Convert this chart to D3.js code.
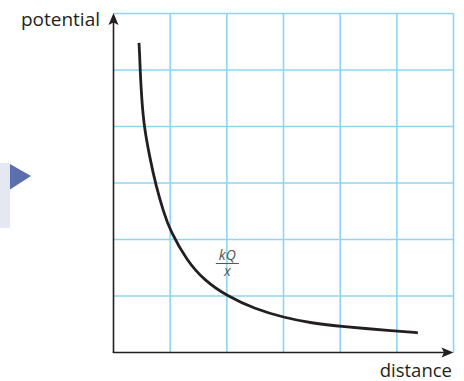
<!DOCTYPE html>
<html>
<head>
<meta charset="utf-8">
<script src="https://cdn.jsdelivr.net/npm/d3@7"></script>
<style>
html,body{margin:0;padding:0;background:#fff;}
svg{display:block;}
</style>
</head>
<body>
<svg id="chart" width="464" height="381"></svg>
<script>
// Data (grid units)
const distance = [0.45, 0.46, 0.47, 0.5, 0.54, 0.64, 0.75, 0.88, 1.0, 1.3, 1.6, 2.0, 2.5, 3.0, 3.5, 4.0, 5.0, 5.36, 5.37];
const potential = [5.48, 5.3, 5.0, 4.45, 4.0, 3.45, 2.95, 2.5, 2.15, 1.62, 1.28, 1.0, 0.77, 0.62, 0.52, 0.46, 0.38, 0.35, 0.35];
const gridTicks = [0, 1, 2, 3, 4, 5, 6];
const axisLabels = ["potential", "distance"];
const curveLabel = ["kQ", "x"];

const svg = d3.select("#chart");
const x = d3.scaleLinear().domain([0, 6]).range([113.5, 453.5]);
const y = d3.scaleLinear().domain([0, 6]).range([352.5, 13.5]);

// decorative left element
svg.append("rect").attr("x", 0).attr("y", 163).attr("width", 10).attr("height", 65).attr("fill", "#e5e7f3");
svg.append("path").attr("d", "M10,164 L31,176 L10,189.5 Z").attr("fill", "#5b6fae");

// grid
const grid = svg.append("g").attr("stroke", "#8dd6f3").attr("stroke-width", 1.6);
grid.selectAll("line.v").data(gridTicks.slice(1)).enter().append("line")
  .attr("x1", d => x(d)).attr("x2", d => x(d)).attr("y1", y(0)).attr("y2", y(6));
grid.selectAll("line.h").data(gridTicks.slice(1)).enter().append("line")
  .attr("y1", d => y(d)).attr("y2", d => y(d)).attr("x1", x(0)).attr("x2", x(6));

// axes
const axCol = "#231f20";
svg.append("line").attr("x1", x(0)).attr("x2", x(0)).attr("y1", y(0)).attr("y2", y(6) + 6)
  .attr("stroke", axCol).attr("stroke-width", 1.6);
svg.append("line").attr("x1", x(0) - 0.8).attr("x2", x(6) - 6).attr("y1", y(0)).attr("y2", y(0))
  .attr("stroke", axCol).attr("stroke-width", 1.6);
// arrowheads
svg.append("path").attr("transform", `translate(${x(0)},${y(6) - 0.5})`)
  .attr("d", "M0,0 L5,12 L0,9.5 L-5,12 Z").attr("fill", axCol);
svg.append("path").attr("transform", `translate(${x(6)},${y(0)})`)
  .attr("d", "M0,0 L-12,-5 L-9.5,0 L-12,5 Z").attr("fill", axCol);

// curve
const pts = distance.map((d, i) => [d, potential[i]]);
svg.append("path").datum(pts)
  .attr("d", d3.line().x(d => x(d[0])).y(d => y(d[1])).curve(d3.curveBasis))
  .attr("fill", "none").attr("stroke", axCol).attr("stroke-width", 2.8).attr("stroke-linecap", "butt");

// axis labels
svg.append("text").attr("x", 100).attr("y", 26).attr("text-anchor", "end")
  .attr("font-family", "Open Sans").attr("font-size", 19).attr("fill", axCol).text(axisLabels[0]);
svg.append("text").attr("x", 452).attr("y", 377).attr("text-anchor", "end")
  .attr("font-family", "Open Sans").attr("font-size", 18.5).attr("fill", axCol).text(axisLabels[1]);

// curve label fraction
const lx = x(2) + 0.5, ly = 263.5;
const lab = svg.append("g").attr("fill", "#555").attr("font-family", "Open Sans").attr("font-style", "italic").attr("font-size", 14);
lab.append("text").attr("x", lx).attr("y", ly - 4).attr("text-anchor", "middle").text(curveLabel[0]);
lab.append("line").attr("x1", lx - 11.5).attr("x2", lx + 11.5).attr("y1", ly).attr("y2", ly).attr("stroke", "#555").attr("stroke-width", 1);
lab.append("text").attr("x", lx).attr("y", ly + 12).attr("text-anchor", "middle").text(curveLabel[1]);
</script>
</body>
</html>
